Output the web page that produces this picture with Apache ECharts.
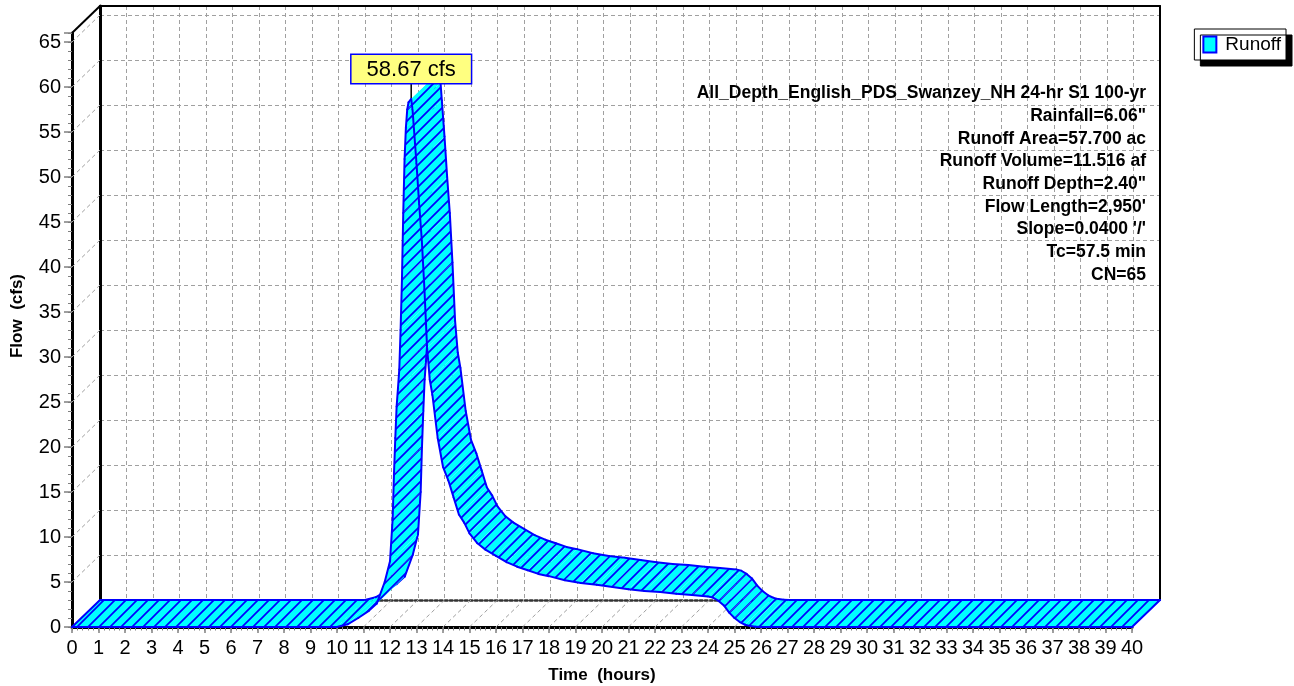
<!DOCTYPE html>
<html>
<head>
<meta charset="utf-8">
<script src="https://cdn.jsdelivr.net/npm/echarts@6/dist/echarts.min.js"></script>
<style>
html,body{margin:0;padding:0;background:#ffffff;}
#chart{width:1294px;height:686px;}
</style>
</head>
<body>
<div id="chart"></div>
<script>
// ---------------- data ----------------
const seriesName = 'Runoff';
const timeHours = [0, 10.0, 10.4, 10.8, 11.2, 11.5, 11.8, 12.0, 12.1, 12.15, 12.2, 12.25, 12.3, 12.35, 12.4, 12.45, 12.5, 12.55, 12.6, 12.65, 12.7, 12.8, 12.85, 12.9, 13.0, 13.1, 13.2, 13.3, 13.4, 13.5, 13.6, 13.8, 14.0, 14.2, 14.4, 14.6, 14.8, 15.0, 15.3, 15.6, 16.0, 16.4, 16.8, 17.2, 17.6, 18.0, 18.6, 19.2, 19.8, 20.4, 21.0, 21.6, 22.2, 22.8, 23.4, 24.0, 24.2, 24.4, 24.6, 24.8, 25.0, 25.2, 25.4, 25.6, 25.8, 26.0, 40];
const flowCfs   = [0, 0, 0.3, 1.0, 1.8, 2.6, 5.0, 7.3, 12.0, 17.0, 21.0, 24.5, 26.5, 28.6, 33.0, 38.5, 46.0, 52.0, 55.5, 57.5, 58.3, 58.67, 57.5, 55.5, 51.5, 47.0, 43.0, 37.5, 31.0, 27.5, 25.8, 21.0, 17.8, 16.3, 14.4, 12.5, 11.6, 10.4, 9.3, 8.6, 7.9, 7.2, 6.7, 6.3, 5.9, 5.65, 5.2, 4.9, 4.7, 4.45, 4.2, 4.0, 3.9, 3.7, 3.55, 3.4, 3.25, 2.9, 2.4, 1.6, 1.0, 0.55, 0.25, 0.1, 0.03, 0, 0];
const xTickHours = [0,1,2,3,4,5,6,7,8,9,10,11,12,13,14,15,16,17,18,19,20,21,22,23,24,25,26,27,28,29,30,31,32,33,34,35,36,37,38,39,40];
const yTickFlows = [0,5,10,15,20,25,30,35,40,45,50,55,60,65];
const infoLines = [
  'All_Depth_English_PDS_Swanzey_NH 24-hr S1 100-yr',
  'Rainfall=6.06"',
  'Runoff Area=57.700 ac',
  'Runoff Volume=11.516 af',
  'Runoff Depth=2.40"',
  "Flow Length=2,950'",
  "Slope=0.0400 '/'",
  'Tc=57.5 min',
  'CN=65'
];
const xAxisTitle = 'Time  (hours)';
const yAxisTitle = 'Flow  (cfs)';
const peakUnit = 'cfs';

// ---------------- layout / style ----------------
const X_MIN = 0, X_MAX = 40, Y_MIN = 0, Y_MAX = 66;
const FONT = '"Liberation Sans", Arial, Helvetica, sans-serif';
const DX = 28, DY = -27;               // 3-D depth offset (pixels)
const G0 = {left: 72, right: 162, top: 33, bottom: 59};
const G1 = {left: G0.left + DX, right: G0.right - DX, top: G0.top + DY, bottom: G0.bottom - DY};
const BLUE = '#0000FF', CYAN = '#00FFFF';

function makeHatch() {
  const s = 11;
  const c = document.createElement('canvas');
  c.width = s; c.height = s;
  const g = c.getContext('2d');
  g.fillStyle = CYAN; g.fillRect(0, 0, s, s);
  g.strokeStyle = BLUE; g.lineWidth = 1.7;
  g.beginPath();
  g.moveTo(-2, s + 2); g.lineTo(s + 2, -2);
  g.moveTo(-2, 2); g.lineTo(2, -2);
  g.moveTo(s - 2, s + 2); g.lineTo(s + 2, s - 2);
  g.stroke();
  return c;
}
const hatch = {image: makeHatch(), repeat: 'repeat'};

const ribbonData = timeHours.map((t, i) => [t, flowCfs[i]]);
let peakIdx = 0;
flowCfs.forEach((v, i) => { if (v > flowCfs[peakIdx]) peakIdx = i; });

const dashGray = {stroke: '#a0a0a0', lineWidth: 1, lineDash: [4, 3]};

function renderFrame(params, api) {
  const ch = [];
  yTickFlows.forEach(v => {
    const p = api.coord([X_MIN, v]);
    ch.push({type: 'line', shape: {x1: p[0], y1: p[1], x2: p[0] + DX, y2: p[1] + DY}, style: dashGray});
  });
  xTickHours.forEach(t => {
    const p = api.coord([t, Y_MIN]);
    ch.push({type: 'line', shape: {x1: p[0], y1: p[1], x2: p[0] + DX, y2: p[1] + DY}, style: dashGray});
  });
  const top = api.coord([X_MIN, Y_MAX]);
  ch.push({type: 'line', shape: {x1: top[0], y1: top[1], x2: top[0] + DX, y2: top[1] + DY},
           style: {stroke: '#000', lineWidth: 2}});
  return {type: 'group', children: ch};
}

function renderRibbon(params, api) {
  const i = params.dataIndexInside;
  const n = params.dataInsideLength;
  if (i >= n - 1) return {type: 'group', children: []};
  const p0 = api.coord([api.value(0, i), api.value(1, i)]);
  const p1 = api.coord([api.value(0, i + 1), api.value(1, i + 1)]);
  const b0 = [p0[0] + DX, p0[1] + DY];
  const b1 = [p1[0] + DX, p1[1] + DY];
  const edge = {stroke: BLUE, lineWidth: 2, lineCap: 'round'};
  const ch = [
    {type: 'polygon', z2: i * 3, shape: {points: [p0, p1, b1, b0]}, style: {fill: hatch, stroke: null}},
    {type: 'line', z2: i * 3 + 1, shape: {x1: p0[0], y1: p0[1], x2: p1[0], y2: p1[1]}, style: edge},
    {type: 'line', z2: i * 3 + 1, shape: {x1: b0[0], y1: b0[1], x2: b1[0], y2: b1[1]}, style: edge}
  ];
  if (i === 0) ch.push({type: 'line', z2: i * 3 + 2, shape: {x1: p0[0], y1: p0[1], x2: b0[0], y2: b0[1]}, style: edge});
  if (i === n - 2) ch.push({type: 'line', z2: i * 3 + 2, shape: {x1: p1[0], y1: p1[1], x2: b1[0], y2: b1[1]}, style: edge});
  return {type: 'group', children: ch};
}

function renderPeak(params, api) {
  const p = api.coord([api.value(0), api.value(1)]);
  const gap = 16;
  return {type: 'group', children: [
    {type: 'line', shape: {x1: p[0], y1: p[1] - 1, x2: p[0], y2: p[1] - gap}, style: {stroke: '#000', lineWidth: 1.5}},
    {type: 'text', x: p[0], y: p[1] - gap, style: {
      text: api.value(1).toFixed(2) + ' ' + peakUnit,
      font: '22px ' + FONT, fill: '#000', align: 'center', verticalAlign: 'bottom',
      backgroundColor: '#FFFF80', borderColor: BLUE, borderWidth: 1.5, padding: [4, 15, 2, 15]
    }}
  ]};
}

const chart = echarts.init(document.getElementById('chart'), null, {renderer: 'canvas'});

const option = {
  animation: false,
  backgroundColor: '#ffffff',
  grid: [
    Object.assign({containLabel: false, outerBoundsMode: 'none'}, G0),
    Object.assign({containLabel: false, outerBoundsMode: 'none'}, G1)
  ],
  legend: {
    data: [{name: seriesName, icon: 'rect', itemStyle: {color: CYAN, borderColor: BLUE, borderWidth: 2}}],
    right: 8, top: 29, orient: 'vertical',
    itemWidth: 13, itemHeight: 16,
    padding: [6, 5, 6, 8],
    backgroundColor: '#ffffff', borderColor: '#000000', borderWidth: 1,
    shadowColor: '#000000', shadowBlur: 0, shadowOffsetX: 6, shadowOffsetY: 6,
    textStyle: {fontFamily: FONT, fontSize: 19, color: '#000', padding: [0, 0, 0, 4]},
    selectedMode: false
  },
  xAxis: [
    { // front main axis
      type: 'value', gridIndex: 0, position: 'bottom', min: X_MIN, max: X_MAX, interval: 1,
      axisLine: {show: true, onZero: false, lineStyle: {color: '#000', width: 3}},
      axisTick: {show: true, length: 6, lineStyle: {color: '#808080', width: 1.5}},
      axisLabel: {show: true, margin: 11, fontFamily: FONT, fontSize: 20, color: '#000'},
      splitLine: {show: false},
      name: xAxisTitle, nameLocation: 'middle', nameGap: 40,
      nameTextStyle: {fontFamily: FONT, fontSize: 17, fontWeight: 'bold', color: '#000'}
    },
    { // front minor ticks
      type: 'value', gridIndex: 0, position: 'bottom', min: X_MIN, max: X_MAX, interval: 0.2,
      axisLine: {show: false, onZero: false},
      axisTick: {show: true, length: 3.5, lineStyle: {color: '#808080', width: 1}},
      axisLabel: {show: false}, splitLine: {show: false}
    },
    { // back wall grid
      type: 'value', gridIndex: 1, position: 'bottom', min: X_MIN, max: X_MAX, interval: 1,
      axisLine: {show: true, onZero: false, lineStyle: {color: '#333', width: 2.5, type: 'dotted'}},
      axisTick: {show: false}, axisLabel: {show: false},
      splitLine: {show: true, lineStyle: {color: '#a0a0a0', width: 1, type: [4, 3]}}
    },
    { // back top edge
      type: 'value', gridIndex: 1, position: 'top', min: X_MIN, max: X_MAX,
      axisLine: {show: true, onZero: false, lineStyle: {color: '#000', width: 2}},
      axisTick: {show: false}, axisLabel: {show: false}, splitLine: {show: false}
    }
  ],
  yAxis: [
    { // front main axis
      type: 'value', gridIndex: 0, position: 'left', min: Y_MIN, max: Y_MAX, interval: 5,
      axisLine: {show: true, onZero: false, lineStyle: {color: '#000', width: 3}},
      axisTick: {show: true, length: 8, lineStyle: {color: '#808080', width: 1.5}},
      axisLabel: {show: true, margin: 11, fontFamily: FONT, fontSize: 20, color: '#000',
                  formatter: v => (yTickFlows.indexOf(v) >= 0 ? String(v) : '')},
      splitLine: {show: false}
    },
    { // front minor ticks
      type: 'value', gridIndex: 0, position: 'left', min: Y_MIN, max: Y_MAX, interval: 1,
      axisLine: {show: false, onZero: false},
      axisTick: {show: true, length: 4, lineStyle: {color: '#808080', width: 1}},
      axisLabel: {show: false}, splitLine: {show: false}
    },
    { // back wall grid
      type: 'value', gridIndex: 1, position: 'left', min: Y_MIN, max: Y_MAX, interval: 5,
      axisLine: {show: true, onZero: false, lineStyle: {color: '#000', width: 3}},
      axisTick: {show: false}, axisLabel: {show: false},
      splitLine: {show: true, lineStyle: {color: '#a0a0a0', width: 1, type: [4, 3]}}
    },
    { // back right edge
      type: 'value', gridIndex: 1, position: 'right', min: Y_MIN, max: Y_MAX,
      axisLine: {show: true, onZero: false, lineStyle: {color: '#000', width: 2}},
      axisTick: {show: false}, axisLabel: {show: false}, splitLine: {show: false}
    }
  ],
  graphic: [
    {type: 'text', z: 10, x: 17, y: 316, rotation: Math.PI / 2,
     style: {text: yAxisTitle, font: 'bold 17px ' + FONT, fill: '#000', align: 'center', verticalAlign: 'middle'}},
    {type: 'text', z: 10, x: 1146, y: 82,
     style: {text: infoLines.join('\n'), font: 'bold 17.5px ' + FONT, fill: '#000',
             align: 'right', verticalAlign: 'top', lineHeight: 22.7}}
  ],
  series: [
    {type: 'custom', name: '_frame', xAxisIndex: 0, yAxisIndex: 0, z: 1, silent: true,
     renderItem: renderFrame, data: [[X_MIN, Y_MIN]]},
    {type: 'custom', name: seriesName, xAxisIndex: 0, yAxisIndex: 0, z: 3, silent: true,
     itemStyle: {color: CYAN, borderColor: BLUE},
     renderItem: renderRibbon, data: ribbonData},
    {type: 'custom', name: '_peak', xAxisIndex: 0, yAxisIndex: 0, z: 6, silent: true,
     renderItem: renderPeak, data: [ribbonData[peakIdx]]}
  ]
};
chart.setOption(option);
</script>
</body>
</html>
